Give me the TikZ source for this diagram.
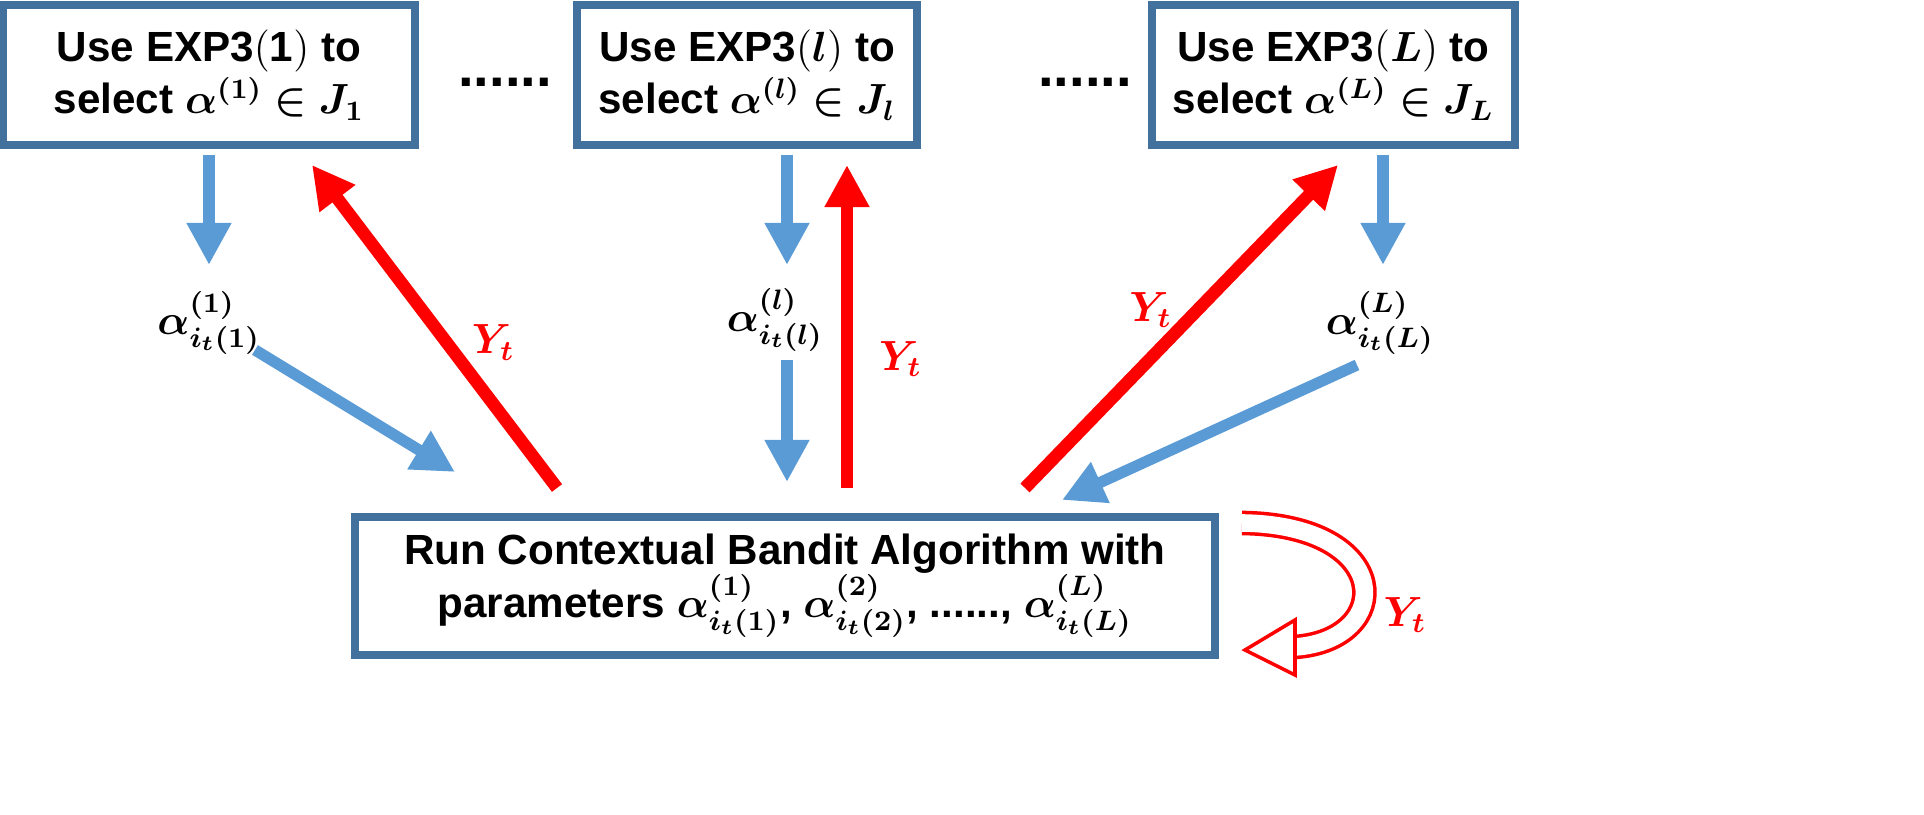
\documentclass[tikz,border=0pt]{standalone}
\usepackage{amsmath,bm}
\usepackage{fontspec}
\setmainfont{Liberation Sans}
\usetikzlibrary{arrows.meta}
\definecolor{blueA}{RGB}{91,155,213}
\definecolor{frameA}{RGB}{65,113,156}
\begin{document}
\begin{tikzpicture}[
    expbox/.style={draw=frameA, line width=2.2pt, minimum height=1.4cm, align=center, font=\fontsize{12}{15}\selectfont\bfseries},
    pick/.style={-{Triangle[length=12pt,width=12pt]}, line width=3.2pt, color=blueA},
    reward/.style={-{Triangle[length=12pt,width=12pt]}, line width=3.6pt, red},
    lab/.style={font=\fontsize{12}{15}\selectfont}
  ]
  \useasboundingbox (0,0) rectangle (19.24,8.15);
  % top boxes
  \node[expbox, minimum width=4.12cm] (E1) at (2.09,7.40) {Use EXP3$(\mathbf{1})$ to\\select $\bm{\alpha^{(1)}\in J_1}$};
  \node[expbox, minimum width=3.40cm] (El) at (7.47,7.40) {Use EXP3$(\bm{l})$ to\\select $\bm{\alpha^{(l)}\in J_l}$};
  \node[expbox, minimum width=3.63cm] (EL) at (13.335,7.40) {Use EXP3$(\bm{L})$ to\\select $\bm{\alpha^{(L)}\in J_L}$};
  \node[lab, font=\fontsize{16}{18}\selectfont\bfseries] (d1) at (5.05,7.33) {......};
  \node[lab, font=\fontsize{16}{18}\selectfont\bfseries] (d2) at (10.85,7.33) {......};
  % bottom box
  \node[expbox, minimum width=8.60cm, minimum height=1.38cm] (Run) at (7.85,2.29)
    {Run Contextual Bandit Algorithm with\\parameters $\bm{\alpha^{(1)}_{i_t(1)}}$, $\bm{\alpha^{(2)}_{i_t(2)}}$, ......, $\bm{\alpha^{(L)}_{i_t(L)}}$};
  % chosen parameters
  \node[lab] (a1) at (2.09,4.92) {$\bm{\alpha^{(1)}_{i_t(1)}}$};
  \node[lab] (al) at (7.75,4.95) {$\bm{\alpha^{(l)}_{i_t(l)}}$};
  \node[lab] (aL) at (13.80,4.92) {$\bm{\alpha^{(L)}_{i_t(L)}}$};
  \coordinate (p1) at (2.55,4.65); \coordinate (q1) at (4.55,3.43);
  \coordinate (pl) at (7.87,4.55); \coordinate (ql) at (7.87,3.33);
  \coordinate (pL) at (13.57,4.50); \coordinate (qL) at (10.62,3.15);
  \draw[pick] (2.09,6.60) -- (2.09,5.50);
  \draw[pick] (7.87,6.60) -- (7.87,5.50);
  \draw[pick] (13.83,6.60) -- (13.83,5.50);
  \draw[pick] (p1) -- (q1);
  \draw[pick] (pl) -- (ql);
  \draw[pick] (pL) -- (qL);
  % rewards
  \draw[reward] (5.57,3.27) -- (3.12,6.50) node[pos=0.45, right=2pt, text=red, lab] {$\bm{Y_t}$};
  \draw[reward] (8.47,3.27) -- (8.47,6.50) node[pos=0.4, right=4pt, text=red, lab] {$\bm{Y_t}$};
  \draw[reward] (10.25,3.27) -- (13.38,6.50) node[pos=0.55, left=2pt, text=red, lab] {$\bm{Y_t}$};
  % self loop
  \draw[red, line width=1pt, double=white, double distance=5pt] (12.42,2.92) .. controls (13.95,2.90) and (13.95,1.75) .. (12.95,1.68);
  \draw[red, line width=1pt, fill=white] (12.95,1.95) -- (12.45,1.65) -- (12.95,1.40) -- cycle;
  \node[lab, text=red] (Ys) at (14.05,2.00) {$\bm{Y_t}$};
\end{tikzpicture}
\end{document}
